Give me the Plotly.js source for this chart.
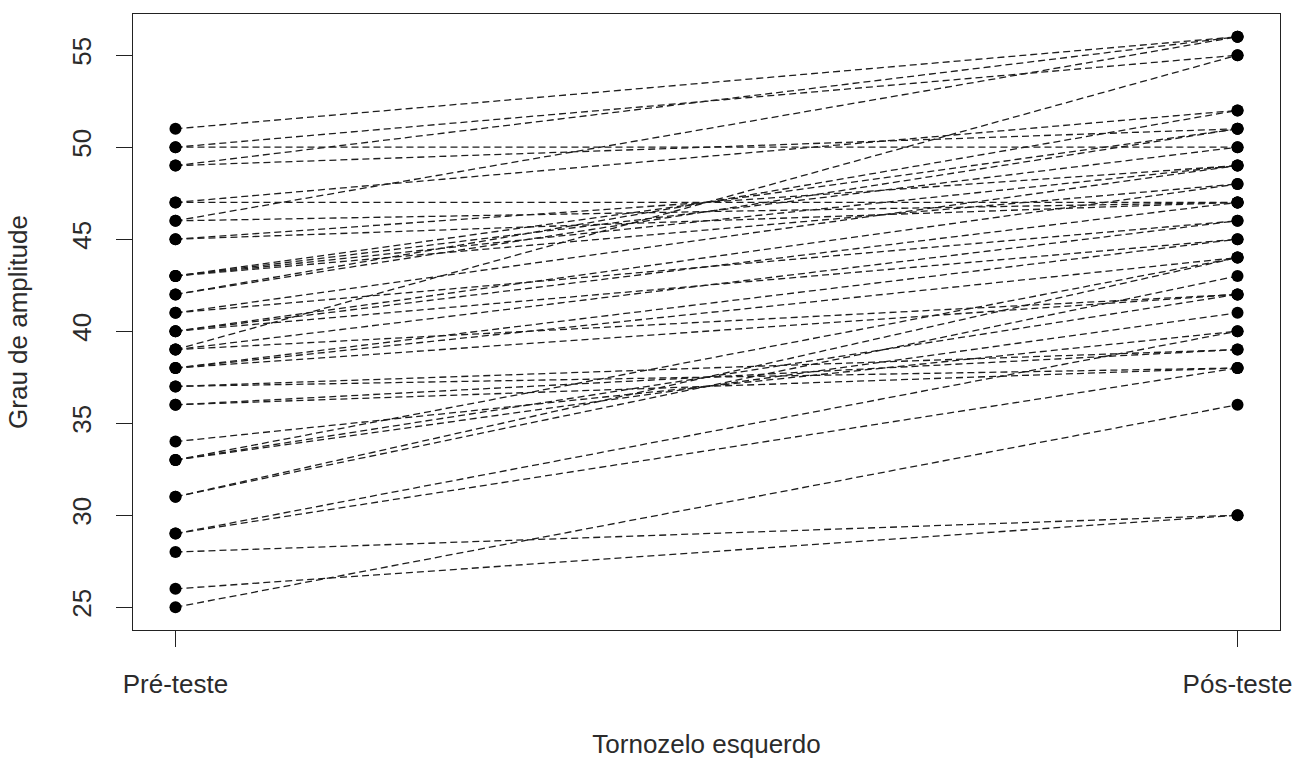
<!DOCTYPE html>
<html>
<head>
<meta charset="utf-8">
<script src="https://cdn.plot.ly/plotly-3.0.1.min.js"></script>
<style>html,body{margin:0;padding:0;background:#fff;}#chart{width:1293px;height:760px;}</style>
</head>
<body>
<div id="chart"></div>
<script>
// Categories (x axis)
const categories = ['Pré-teste', 'Pós-teste'];
// Paired values per subject (pre-test -> post-test)
const preTest  = [51, 50, 50, 49, 49, 47, 47, 46, 46, 45, 45, 43, 43, 43, 43, 42, 42, 41, 41, 40, 40, 40, 39, 39, 39, 38, 38, 38, 37, 37, 36, 36, 34, 33, 33, 33, 31, 31, 29, 29, 28, 26, 25];
const postTest = [56, 55, 50, 56, 51, 52, 47, 56, 47, 47, 49, 51, 50, 49, 48, 52, 51, 49, 46, 48, 47, 45, 55, 46, 42, 45, 44, 42, 38, 39, 38, 39, 40, 41, 42, 44, 43, 44, 38, 40, 30, 30, 36];
const yTicks = [25, 30, 35, 40, 45, 50, 55];
const xTitle = 'Tornozelo esquerdo';
const yTitle = 'Grau de amplitude';

const lx = [], ly = [], mx = [], my = [];
for (let i = 0; i < preTest.length; i++) {
  lx.push(categories[0], categories[1], null);
  ly.push(preTest[i], postTest[i], null);
  mx.push(categories[0], categories[1]);
  my.push(preTest[i], postTest[i]);
}

const font = 'Liberation Sans, Arial, sans-serif';
const txt = '#2b2b2b';

const traces = [
  { type: 'scatter', mode: 'lines', x: lx, y: ly, connectgaps: false,
    line: { color: '#1e1e1e', width: 1.3, dash: '7px,4px' }, hoverinfo: 'skip', showlegend: false },
  { type: 'scatter', mode: 'markers', x: mx, y: my,
    marker: { color: '#000', size: 12 }, showlegend: false }
];

const layout = {
  width: 1293, height: 760,
  margin: { l: 133, r: 13, t: 14, b: 130 },
  paper_bgcolor: '#fff', plot_bgcolor: '#fff',
  showlegend: false,
  font: { family: font, color: txt, size: 26 },
  xaxis: {
    type: 'category', categoryorder: 'array', categoryarray: categories,
    range: [-0.04, 1.04],
    showgrid: false, zeroline: false,
    showline: true, mirror: true, linecolor: '#222', linewidth: 1.2,
    ticks: 'outside', ticklen: 16, tickwidth: 1.2, tickcolor: '#222',
    tickfont: { family: font, size: 26, color: txt },
    ticklabelstandoff: 15,
    title: { text: xTitle, font: { family: font, size: 26, color: txt }, standoff: 36 }
  },
  yaxis: {
    range: [23.76, 57.24],
    tickvals: yTicks, ticktext: yTicks.map(String),
    tickangle: -90,
    showgrid: false, zeroline: false,
    showline: true, mirror: true, linecolor: '#222', linewidth: 1.2,
    ticks: 'outside', ticklen: 16, tickwidth: 1.2, tickcolor: '#222',
    tickfont: { family: font, size: 26, color: txt },
    ticklabelstandoff: 14,
    title: { text: yTitle, font: { family: font, size: 26, color: txt }, standoff: 32 }
  }
};

Plotly.newPlot('chart', traces, layout, { displayModeBar: false, staticPlot: true });
</script>
</body>
</html>
